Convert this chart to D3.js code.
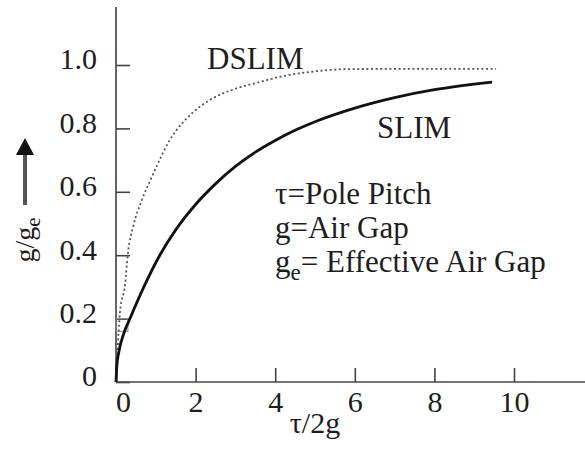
<!DOCTYPE html>
<html>
<head>
<meta charset="utf-8">
<script src="https://cdn.jsdelivr.net/npm/d3@7"></script>
<style>
  body { margin: 0; background: #fff; }
</style>
</head>
<body>
<div class="chart"></div>
<script>
// Data
const slimX = [0, 0.02, 0.08, 0.2, 0.35, 0.7, 1.1, 1.5, 2.0, 2.5, 3.0, 3.5, 4.0, 4.5, 5.0, 6.0, 7.0, 8.0, 9.45];
const slimY = [0, 0.05, 0.1, 0.155, 0.2, 0.3, 0.4, 0.48, 0.56, 0.625, 0.68, 0.725, 0.762, 0.794, 0.821, 0.864, 0.897, 0.922, 0.946];
const dslimX = [0, 0.04, 0.1, 0.23, 0.3, 0.43, 0.65, 0.9, 1.35, 1.93, 2.36, 3.0, 3.6, 4.2, 4.86, 5.86, 7.5, 9.55];
const dslimY = [0, 0.1, 0.22, 0.31, 0.407, 0.49, 0.574, 0.647, 0.763, 0.85, 0.89, 0.925, 0.946, 0.965, 0.978, 0.987, 0.988, 0.988];
const xTicks = [0, 2, 4, 6, 8, 10];
const yTicks = [0, 0.2, 0.4, 0.6, 0.8, 1.0];
const notes = ["τ=Pole Pitch", "g=Air Gap"];

const width = 585, height = 449;
const serif = '"Liberation Serif", "Times New Roman", "DejaVu Serif", Times, serif';
const ink = '#1e1e1e';

const svg = d3.select('.chart')
    .append('svg')
    .attr('width', width)
    .attr('height', height)
    .style('font-family', serif);

// Scales
const x = d3.scaleLinear().domain([0, 10]).range([116, 514]);
const y = d3.scaleLinear().domain([0, 1]).range([382, 65]);

// Axis lines
svg.append('line')
    .attr('x1', x(0)).attr('x2', x(0))
    .attr('y1', y(0)).attr('y2', 7)
    .attr('stroke', '#666').attr('stroke-width', 2);

svg.append('line')
    .attr('x1', x(0)).attr('x2', width)
    .attr('y1', y(0)).attr('y2', y(0))
    .attr('stroke', '#444').attr('stroke-width', 1.6);

// Y axis ticks (inward) and labels
const yAxis = svg.append('g')
    .attr('transform', `translate(${x(0)},0)`)
    .call(d3.axisLeft(y)
        .tickValues(yTicks)
        .tickSizeInner(-14)
        .tickSizeOuter(0)
        .tickPadding(19)
        .tickFormat(d => d === 0 ? '0' : d3.format('.1f')(d)));

yAxis.attr('font-family', null).attr('font-size', null);
yAxis.select('.domain').remove();
yAxis.selectAll('line').attr('stroke', '#444').attr('stroke-width', 1.6);
yAxis.selectAll('text')
    .attr('dy', '0.13em')
    .style('font-size', '30px')
    .style('font-family', serif)
    .attr('fill', ink);

// X axis ticks (upward) and labels
const xAxis = svg.append('g')
    .attr('transform', `translate(0,${y(0)})`)
    .call(d3.axisBottom(x)
        .tickValues(xTicks)
        .tickSizeInner(-14)
        .tickSizeOuter(0)
        .tickPadding(9)
        .tickFormat(d3.format('d')));

xAxis.attr('font-family', null).attr('font-size', null);
xAxis.select('.domain').remove();
xAxis.selectAll('line').attr('stroke', '#444').attr('stroke-width', 1.6);
xAxis.selectAll('text')
    .style('font-size', '30px')
    .style('font-family', serif)
    .attr('fill', ink)
    .attr('dx', d => d === 0 ? 7 : 0);

// Small box near the origin
svg.append('rect')
    .attr('x', x(0))
    .attr('y', y(0.2))
    .attr('width', x(0.3) - x(0))
    .attr('height', y(0.16) - y(0.2))
    .attr('fill', 'none')
    .attr('stroke', '#888')
    .attr('stroke-width', 1);

// Curves
const line = d3.line()
    .x(d => x(d[0]))
    .y(d => y(d[1]))
    .curve(d3.curveMonotoneX);

svg.append('path')
    .datum(dslimX.map((v, i) => [v, dslimY[i]]))
    .attr('d', line)
    .attr('fill', 'none')
    .attr('stroke', '#555')
    .attr('stroke-width', 1.8)
    .attr('stroke-dasharray', '2,2.6');

svg.append('path')
    .datum(slimX.map((v, i) => [v, slimY[i]]))
    .attr('d', line)
    .attr('fill', 'none')
    .attr('stroke', '#111')
    .attr('stroke-width', 2.8);

// Curve labels
function label(tx, ty, size, str) {
    return svg.append('text')
        .attr('x', tx).attr('y', ty)
        .style('font-family', serif)
        .style('font-size', size + 'px')
        .attr('fill', ink)
        .text(str);
}

label(207, 69, 31, 'DSLIM');
label(377, 138, 31, 'SLIM');

// Definitions
notes.forEach((d, i) => label(275, 204 + i * 34, 31, d));

const ge = label(275, 272, 31, null);
ge.append('tspan').text('g');
ge.append('tspan').attr('dy', 8).style('font-size', '23px').text('e');
ge.append('tspan').attr('dy', -8).text('= Effective Air Gap');

// Axis titles
label(315, 433, 30, 'τ/2g').attr('text-anchor', 'middle');

const yl = label(0, 0, 28, null)
    .attr('transform', 'translate(34,240) rotate(-90)')
    .attr('text-anchor', 'middle');
yl.append('tspan').text('g/g');
yl.append('tspan').attr('dy', 6).style('font-size', '21px').text('e');

// Arrow
svg.append('line')
    .attr('x1', 25).attr('x2', 25)
    .attr('y1', 205).attr('y2', 152)
    .attr('stroke', '#555').attr('stroke-width', 4);

svg.append('path')
    .attr('d', 'M25,138 L16,155 L34,155 Z')
    .attr('fill', '#111');
</script>
</body>
</html>
